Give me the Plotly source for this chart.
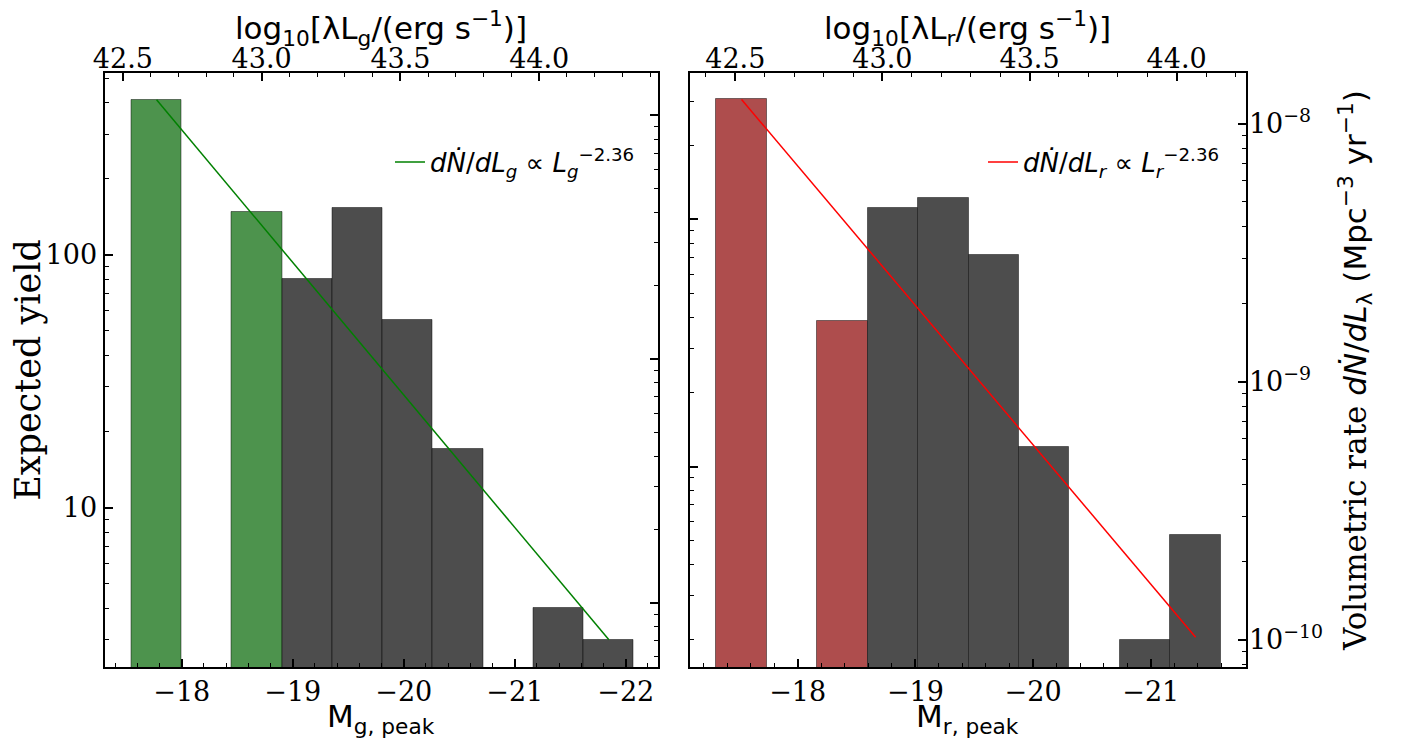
import plotly.graph_objects as go

# ---------------- data ----------------
# g band (left panel)
g_edges = [-17.547, -18.000, -18.452, -18.905, -19.358, -19.811, -20.263, -20.716, -21.169, -21.621, -22.074]
g_yield = [410, 0, 147, 80, 153, 55, 17, 0, 4.0, 3.0]
g_fit_M = [-17.773, -21.848]
g_fit_y = [410, 3.0]

# r band (right panel) -- volumetric rate units
r_edges = [-17.309, -17.738, -18.166, -18.595, -19.023, -19.452, -19.881, -20.309, -20.738, -21.166, -21.595]
r_rate = [1.24e-8, 0, 1.72e-9, 4.69e-9, 5.14e-9, 3.09e-9, 5.57e-10, 0, 1.0e-10, 2.55e-10]
r_fit_M = [-17.523, -21.381]
r_fit_y = [1.24e-8, 1.02e-10]

# colour group per bin: 1 = coloured bins, 0 = grey
g_group = [1, 1, 1, 0, 0, 0, 0, 0, 0, 0]
r_group = [1, 1, 1, 0, 0, 0, 0, 0, 0, 0]

M_ticks_g = [-18, -19, -20, -21, -22]
M_ticks_r = [-18, -19, -20, -21]
L_ticks = [42.5, 43.0, 43.5, 44.0]
ZP = 88.78  # M = ZP - 2.5 log10(lambda L)

# axis limits
g_xlim = [-17.304, -22.293]
r_xlim = [-17.085, -21.805]
g_ylim_yield = [0.3696, 2.719]
g_ylim_rate = [-10.263, -7.826]
r_ylim_yield = [0.1886, 2.5925]
r_ylim_rate = [-10.1066, -7.804]

# page has an 8px body margin -> figure drawn at (8, 8)
OFF = 8
W, H = 1402 - OFF, 740 - OFF
TOP, BOT = 73 - OFF, 667 - OFF
GREEN = "#4D934D"
RED = "#AE4D4D"
GREY = "#4D4D4D"


def bars(edges, vals, group, col):
    xs, ws, ys, cs = [], [], [], []
    for i, v in enumerate(vals):
        if v <= 0:
            continue
        xs.append((edges[i] + edges[i + 1]) / 2)
        ws.append(abs(edges[i + 1] - edges[i]))
        ys.append(v)
        cs.append(col if group[i] else GREY)
    return xs, ws, ys, cs


def log_minor(kmin, kmax):
    return [m * 10.0 ** k for k in range(kmin, kmax + 1) for m in range(2, 10)]


fig = go.Figure()

# base / dummy traces so every axis is drawn
for xa, ya in [("x", "y2"), ("x2", "y"), ("x3", "y3"), ("x4", "y3")]:
    fig.add_trace(go.Scatter(x=[None], y=[None], xaxis=xa, yaxis=ya, showlegend=False, hoverinfo="skip"))

xs, ws, ys, cs = bars(g_edges, g_yield, g_group, GREEN)
fig.add_trace(go.Bar(x=xs, y=ys, width=ws, marker=dict(color=cs, line=dict(color="rgba(0,0,0,0.45)", width=1)),
                     xaxis="x", yaxis="y", showlegend=False))
fig.add_trace(go.Scatter(x=g_fit_M, y=g_fit_y, mode="lines", line=dict(color="#008000", width=1.5),
                         xaxis="x", yaxis="y", legend="legend",
                         name="<i>dṄ</i>/<i>dL<sub>g</sub></i> ∝ <i>L<sub>g</sub></i><sup>−2.36</sup>"))

xs, ws, ys, cs = bars(r_edges, r_rate, r_group, RED)
fig.add_trace(go.Bar(x=xs, y=ys, width=ws, marker=dict(color=cs, line=dict(color="rgba(0,0,0,0.45)", width=1)),
                     xaxis="x3", yaxis="y4", showlegend=False))
fig.add_trace(go.Scatter(x=r_fit_M, y=r_fit_y, mode="lines", line=dict(color="#FF0000", width=1.5),
                         xaxis="x3", yaxis="y4", legend="legend2",
                         name="<i>dṄ</i>/<i>dL<sub>r</sub></i> ∝ <i>L<sub>r</sub></i><sup>−2.36</sup>"))

SERIF = "DejaVu Serif"
SANS = "DejaVu Sans"
TICKF = dict(family=SERIF, size=27, color="black")

ax_common = dict(showgrid=False, zeroline=False, showline=True, linecolor="black", linewidth=2,
                 ticks="inside", ticklen=8, tickwidth=1.5, tickcolor="black", tickfont=TICKF)
minor_lin = lambda d: dict(ticks="inside", ticklen=4, tickwidth=1, tickcolor="black", dtick=d, tick0=0)
minor_log = lambda a, b: dict(ticks="inside", ticklen=4, tickwidth=1, tickcolor="black", tickvals=log_minor(a, b))

d1 = [(104.5 - OFF) / W, (658.3 - OFF) / W]
d2 = [(690.0 - OFF) / W, (1245.5 - OFF) / W]


def Lrange(xlim):
    return [(ZP - xlim[0]) / 2.5, (ZP - xlim[1]) / 2.5]


def py(ypx):  # screenshot pixel row -> paper y
    return (BOT - (ypx - OFF)) / (BOT - TOP)


fig.update_layout(
    width=W, height=H, plot_bgcolor="white", paper_bgcolor="white",
    margin=dict(l=0, r=0, t=TOP, b=H - BOT, autoexpand=False),
    bargap=0, barmode="overlay",
    xaxis=dict(**ax_common, domain=d1, anchor="y", range=g_xlim,
               tickvals=M_ticks_g, ticktext=["−%d" % abs(v) for v in M_ticks_g], minor=minor_lin(0.2)),
    xaxis2=dict(**ax_common, domain=d1, anchor="y", overlaying="x", side="top", range=Lrange(g_xlim),
                tickvals=L_ticks, ticktext=["%.1f" % v for v in L_ticks], minor=minor_lin(0.1),
                ticklabelstandoff=-8),
    yaxis=dict(**ax_common, domain=[0, 1], anchor="x", type="log", range=g_ylim_yield,
               tickvals=[10, 100], ticktext=["10", "100"], minor=minor_log(0, 2),
               title=dict(text="Expected yield", font=dict(family=SERIF, size=35, color="black"), standoff=6)),
    yaxis2=dict(**ax_common, domain=[0, 1], anchor="x", overlaying="y", side="right", type="log",
                range=g_ylim_rate, tickvals=[1e-10, 1e-9, 1e-8], showticklabels=False, minor=minor_log(-11, -8)),
    xaxis3=dict(**ax_common, domain=d2, anchor="y3", range=r_xlim,
                tickvals=M_ticks_r, ticktext=["−%d" % abs(v) for v in M_ticks_r], minor=minor_lin(0.2)),
    xaxis4=dict(**ax_common, domain=d2, anchor="y3", overlaying="x3", side="top", range=Lrange(r_xlim),
                tickvals=L_ticks, ticktext=["%.1f" % v for v in L_ticks], minor=minor_lin(0.1),
                ticklabelstandoff=-8),
    yaxis3=dict(**ax_common, domain=[0, 1], anchor="x3", type="log", range=r_ylim_yield,
                tickvals=[10, 100], showticklabels=False, minor=minor_log(0, 2)),
    yaxis4=dict(**ax_common, domain=[0, 1], anchor="x3", overlaying="y3", side="right", type="log",
                range=r_ylim_rate, tickvals=[1e-10, 1e-9, 1e-8],
                ticktext=["10<sup>−10</sup>", "10<sup>−9</sup>", "10<sup>−8</sup>"], minor=minor_log(-11, -8),
                ticklabelstandoff=-4,
                title=dict(text="Volumetric rate <span style='font-family:DejaVu Sans'><i>dṄ</i>/<i>dL</i><sub>λ</sub> (Mpc<sup>−3</sup> yr<sup>−1</sup>)</span>",
                           font=dict(family=SERIF, size=31, color="black"), standoff=22)),
    legend=dict(x=(390 - OFF) / W, y=1 - (162 - OFF) / H, xanchor="left", yanchor="middle", xref="paper",
                yref="container", bgcolor="rgba(0,0,0,0)", font=dict(family=SANS, size=26, color="black")),
    legend2=dict(x=(983 - OFF) / W, y=1 - (162 - OFF) / H, xanchor="left", yanchor="middle", xref="paper",
                 yref="container", bgcolor="rgba(0,0,0,0)", font=dict(family=SANS, size=26, color="black")),
)

TITLEF = dict(family=SANS, size=31, color="black")
for dom, band in [(d1, "g"), (d2, "r")]:
    xc = (dom[0] + dom[1]) / 2
    fig.add_annotation(x=xc, y=py(28), xref="paper", yref="paper", xanchor="center", yanchor="middle",
                       showarrow=False, font=TITLEF,
                       text="log<sub>10</sub>[λL<sub>%s</sub>/(erg s<sup>−1</sup>)]" % band)
    fig.add_annotation(x=xc, y=py(718), xref="paper", yref="paper", xanchor="center", yanchor="middle",
                       showarrow=False, font=TITLEF, text="M<sub>%s, peak</sub>" % band)

fig.write_html("out.html")
